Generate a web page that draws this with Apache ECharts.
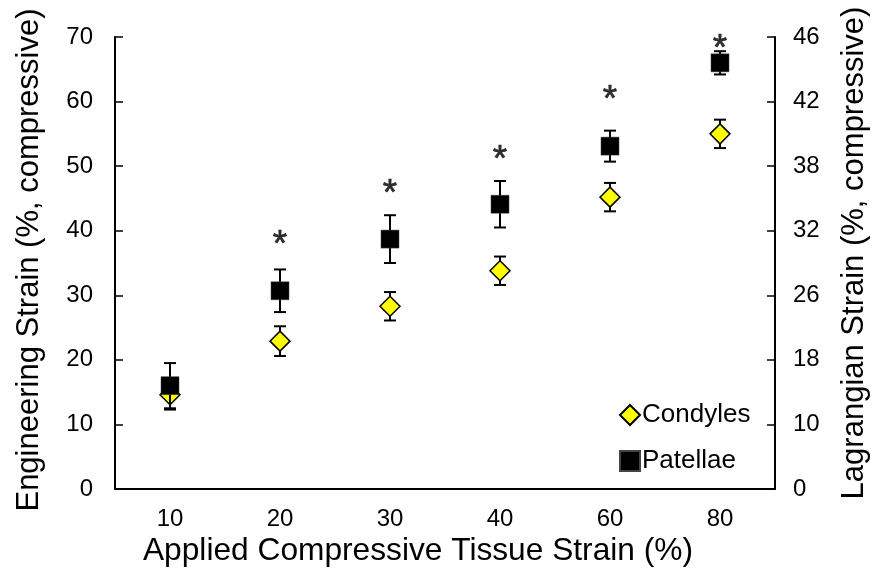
<!DOCTYPE html>
<html><head><meta charset="utf-8">
<script src="https://cdn.jsdelivr.net/npm/echarts@6/dist/echarts.min.js"></script>
<style>html,body{margin:0;padding:0;background:#fff}#c{width:872px;height:571px}</style>
</head><body><div id="c"></div>
<script>
var categories = ['10','20','30','40','60','80'];
var condyles = [14.6, 22.9, 28.3, 33.8, 45.2, 55.0];
var condylesErr = [2.3, 2.3, 2.2, 2.2, 2.2, 2.2];
var patellae = [16.0, 30.7, 38.7, 44.1, 53.1, 66.0];
var patellaeErr = [3.5, 3.3, 3.7, 3.6, 2.4, 1.8];
var asterisks = [null, 38.9, 46.8, 52.0, 61.3, 69.2];
var leftTicks = [0,10,20,30,40,50,60,70];
var rightTickLabels = ['0','10','18','26','32','38','42','46'];
var xTitle = 'Applied Compressive Tissue Strain (%)';
var yLeftTitle = 'Engineering Strain (%, compressive)';
var yRightTitle = 'Lagrangian Strain (%, compressive)';

var FONT = 'Liberation Sans, Arial, sans-serif';
var chart = echarts.init(document.getElementById('c'));

function errData(vals, errs){
  return vals.map(function(v,i){ return [i, v-errs[i], v+errs[i]]; });
}
function errRender(params, api){
  var lo = api.coord([api.value(0), api.value(1)]);
  var hi = api.coord([api.value(0), api.value(2)]);
  var w = 6;
  var st = {stroke:'#000', lineWidth:2};
  return {type:'group', children:[
    {type:'line', shape:{x1:lo[0],y1:lo[1],x2:hi[0],y2:hi[1]}, style:st},
    {type:'line', shape:{x1:lo[0]-w,y1:lo[1],x2:lo[0]+w,y2:lo[1]}, style:st},
    {type:'line', shape:{x1:hi[0]-w,y1:hi[1],x2:hi[0]+w,y2:hi[1]}, style:st}
  ]};
}
var sigData = asterisks.map(function(v,i){ return v == null ? null : [i, v]; }).filter(function(d){ return d; });

chart.setOption({
  animation:false,
  backgroundColor:'#fff',
  textStyle:{fontFamily:FONT},
  grid:{left:115, right:97, top:37, bottom:82, outerBoundsMode:'none', containLabel:false},
  legend:{
    orient:'vertical', left:614, top:397, itemGap:20, itemWidth:20, itemHeight:20,
    textStyle:{fontFamily:FONT, fontSize:26, color:'#000', padding:[0,0,0,-3]},
    data:[{name:'Condyles', icon:'diamond'},{name:'Patellae', icon:'rect'}]
  },
  graphic:[
    {type:'text', x:418, y:551, silent:true,
     style:{text:xTitle, font:'31.7px ' + FONT, fill:'#000', align:'center', verticalAlign:'middle'}},
    {type:'text', x:29, y:260, rotation:Math.PI/2, silent:true,
     style:{text:yLeftTitle, font:'31px ' + FONT, fill:'#000', align:'center', verticalAlign:'middle'}},
    {type:'text', x:854, y:253, rotation:Math.PI/2, silent:true,
     style:{text:yRightTitle, font:'31px ' + FONT, fill:'#000', align:'center', verticalAlign:'middle'}}
  ],
  xAxis:{
    type:'category', data:categories, boundaryGap:true,
    axisLine:{lineStyle:{color:'#000', width:2}},
    axisTick:{inside:true, length:8, lineStyle:{color:'#000', width:1.5}},
    axisLabel:{fontFamily:FONT, fontSize:24, color:'#000', margin:18},
    splitLine:{show:false}
  },
  yAxis:[
    {type:'value', min:0, max:70, interval:10, position:'left',
     axisLine:{show:true, lineStyle:{color:'#000', width:2}},
     axisTick:{show:true, inside:true, length:8, lineStyle:{color:'#000', width:1.5}},
     axisLabel:{fontFamily:FONT, fontSize:24, color:'#000', margin:22},
     splitLine:{show:false}},
    {type:'value', min:0, max:70, interval:10, position:'right',
     axisLine:{show:true, lineStyle:{color:'#000', width:2}},
     axisTick:{show:true, inside:true, length:8, lineStyle:{color:'#000', width:1.5}},
     axisLabel:{fontFamily:FONT, fontSize:24, color:'#000', margin:18,
       formatter:function(v){ return rightTickLabels[leftTicks.indexOf(v)]; }},
     splitLine:{show:false}}
  ],
  series:[
    {type:'custom', name:'CondylesErr', renderItem:errRender, data:errData(condyles, condylesErr), z:2, silent:true},
    {type:'scatter', name:'Condyles', data:condyles, symbol:'diamond', symbolSize:[20,20],
     itemStyle:{color:'#ffff00', borderColor:'#000', borderWidth:1.5, opacity:1}, z:3},
    {type:'custom', name:'PatellaeErr', renderItem:errRender, data:errData(patellae, patellaeErr), z:4, silent:true},
    {type:'scatter', name:'Patellae', data:patellae, symbol:'rect', symbolSize:[18,18],
     itemStyle:{color:'#000', borderColor:'#444', borderWidth:0.5, opacity:1}, z:5},
    {type:'scatter', name:'sig', data:sigData, symbolSize:2, itemStyle:{color:'rgba(0,0,0,0)'},
     label:{show:true, position:'inside', formatter:'*', fontFamily:FONT, fontSize:37, color:'#000',
       textBorderColor:'#000', textBorderWidth:0.6, offset:[0,8]}, z:6, silent:true}
  ]
});
</script></body></html>
